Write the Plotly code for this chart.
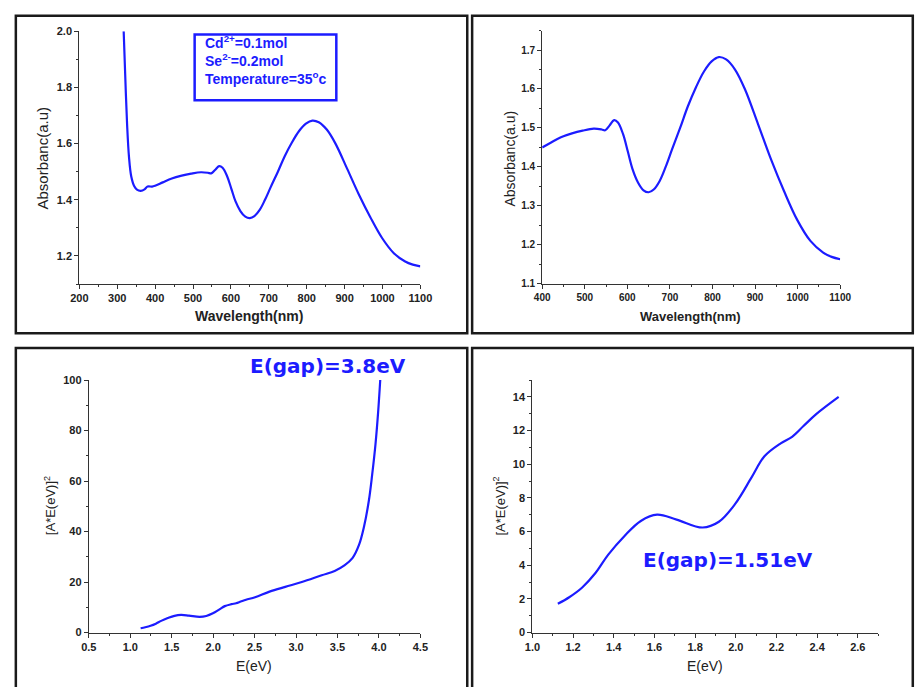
import plotly.graph_objects as go

# ---- data ----
wavelength = [317, 321, 326, 331, 337, 345, 352, 362, 372, 380, 392, 400, 420, 444, 470, 495,
              521, 540, 548, 558, 569, 578, 590, 601, 612, 625, 638, 650, 662, 676, 690, 705,
              724, 742, 761, 780, 798, 815, 832, 853, 876, 907, 938, 968, 999, 1030, 1060,
              1080, 1100]
absorbance = [2.0, 1.845, 1.669, 1.553, 1.483, 1.448, 1.436, 1.432, 1.437, 1.447, 1.447, 1.450,
              1.462, 1.476, 1.486, 1.493, 1.498, 1.496, 1.494, 1.506, 1.520, 1.514, 1.484,
              1.440, 1.395, 1.360, 1.340, 1.335, 1.342, 1.364, 1.400, 1.445, 1.500, 1.555,
              1.604, 1.645, 1.671, 1.682, 1.676, 1.650, 1.600, 1.510, 1.418, 1.338, 1.264,
              1.210, 1.180, 1.169, 1.163]

energy = [1.125, 1.181, 1.245, 1.309, 1.373, 1.453, 1.533, 1.613, 1.709, 1.837, 1.917, 1.997,
          2.077, 2.141, 2.221, 2.277, 2.333, 2.397, 2.506, 2.68, 2.87, 3.07, 3.31, 3.466,
          3.584, 3.683, 3.761, 3.82, 3.879, 3.919, 3.958, 3.99, 4.016]
tauc = [1.71, 2.10, 2.68, 3.52, 4.63, 5.74, 6.63, 7.00, 6.71, 6.24, 6.58, 7.64, 9.20, 10.47,
        11.24, 11.63, 12.27, 12.99, 14.0, 16.2, 18.1, 20.0, 22.7, 24.4, 26.6, 29.6, 34.8,
        41.9, 52.3, 62.6, 74.3, 87.0, 100.0]

wl_zoom = [w for w in wavelength if w >= 400]
ab_zoom = [a for w, a in zip(wavelength, absorbance) if w >= 400]
e_zoom = [e for e in energy if e <= 2.51]
t_zoom = [t for e, t in zip(energy, tauc) if e <= 2.51]

W, H = 916, 687
BLUE = "#1c1cff"

def px(x):
    return x / W

def py(y):
    return 1 - y / H

fig = go.Figure()
line = dict(color=BLUE, width=2.2, shape="spline", smoothing=1.0)
fig.add_trace(go.Scatter(x=wavelength, y=absorbance, mode="lines", line=line, xaxis="x", yaxis="y"))
fig.add_trace(go.Scatter(x=wl_zoom, y=ab_zoom, mode="lines", line=line, xaxis="x2", yaxis="y2"))
fig.add_trace(go.Scatter(x=energy, y=tauc, mode="lines", line=line, xaxis="x3", yaxis="y3"))
fig.add_trace(go.Scatter(x=e_zoom, y=t_zoom, mode="lines", line=line, xaxis="x4", yaxis="y4"))

def ax(rng, dtick, domain, anchor, fmt, size=11):
    return dict(range=rng, dtick=dtick, tick0=0, domain=domain, anchor=anchor,
                showline=True, linecolor="#333", linewidth=1.2, ticks="outside",
                ticklen=4, tickcolor="#333", tickwidth=1, showgrid=False, zeroline=False,
                tickformat=fmt,
                tickfont=dict(family="Arial", size=size, color="#222", weight="bold"),
                minor=dict(ticks="outside", ticklen=2, tickcolor="#333", dtick=dtick / 2,
                           showgrid=False))

fig.update_layout(
    width=W, height=H, margin=dict(l=0, r=0, t=0, b=0),
    paper_bgcolor="white", plot_bgcolor="white", showlegend=False,
    xaxis=ax([200, 1100], 100, [px(72), px(421)], "y", "d"),
    yaxis=ax([1.1, 2.0], 0.2, [py(283), py(25.7)], "x", ".1f"),
    xaxis2=ax([400, 1100], 100, [px(545.7), px(850.7)], "y2", "d", 10),
    yaxis2=ax([1.1, 1.75], 0.1, [py(282.7), py(25)], "x2", ".1f", 10),
    xaxis3=ax([0.5, 4.5], 0.5, [px(81.7), px(421)], "y3", ".1f"),
    yaxis3=ax([0, 100], 20, [py(637.7), py(380.7)], "x3", "d"),
    xaxis4=ax([1.0, 2.7], 0.2, [px(535.7), px(889.5)], "y4", ".1f"),
    yaxis4=ax([0, 15], 2, [py(637.7), py(380.7)], "x4", "d"),
)
fig.layout.yaxis.tickvals = [1.2, 1.4, 1.6, 1.8, 2.0]
fig.layout.yaxis2.tickvals = [1.1, 1.2, 1.3, 1.4, 1.5, 1.6, 1.7]
fig.layout.yaxis4.tickvals = [0, 2, 4, 6, 8, 10, 12, 14]
fig.layout.xaxis4.tickvals = [1.0, 1.2, 1.4, 1.6, 1.8, 2.0, 2.2, 2.4, 2.6]

shapes = []
for x0, y0, x1, y1 in [(7, 10, 469, 333), (474, 10, 925, 333), (7, 348, 469, 700), (474, 348, 925, 700)]:
    shapes.append(dict(type="rect", xref="paper", yref="paper", x0=px(x0), x1=px(x1),
                       y0=py(y1), y1=py(y0), line=dict(color="#1a1a1a", width=2.5)))
shapes.append(dict(type="rect", xref="paper", yref="paper", x0=px(190), x1=px(335),
                   y0=py(96), y1=py(29), line=dict(color=BLUE, width=2.5)))
fig.update_layout(shapes=shapes)

anns = []
def txt(x, y, s, size, angle=0, bold=False, family="Arial", color="#222", xanchor="center"):
    anns.append(dict(xref="paper", yref="paper", x=px(x), y=py(y), text=s, showarrow=False,
                     textangle=angle, xanchor=xanchor, yanchor="middle",
                     font=dict(family=family, size=size, color=color,
                               weight="bold" if bold else "normal")))

txt(246, 316, "Wavelength(nm)", 14, bold=True)
txt(34, 155, "Absorbanc(a.u)", 15, angle=-90)
txt(698, 316, "Wavelength(nm)", 13, bold=True)
txt(513, 155, "Absorbanc(a.u)", 14, angle=-90)
txt(251, 672, "E(eV)", 14)
txt(42, 509, "[A*E(eV)]<sup>2</sup>", 13, angle=-90)
txt(712, 672, "E(eV)", 14)
txt(502, 509, "[A*E(eV)]<sup>2</sup>", 13, angle=-90)
txt(199, 55, "Cd<sup>2+</sup>=0.1mol<br>Se<sup>2-</sup>=0.2mol<br>Temperature=35<sup>o</sup>c",
    14, bold=True, color=BLUE, xanchor="left")
anns[-1]["align"] = "left"
txt(326, 366, "E(gap)=3.8eV", 20, bold=True, family="DejaVu Sans", color=BLUE)
txt(736, 564, "E(gap)=1.51eV", 20, bold=True, family="DejaVu Sans", color=BLUE)
fig.update_layout(annotations=anns)

fig.write_html("out.html")
